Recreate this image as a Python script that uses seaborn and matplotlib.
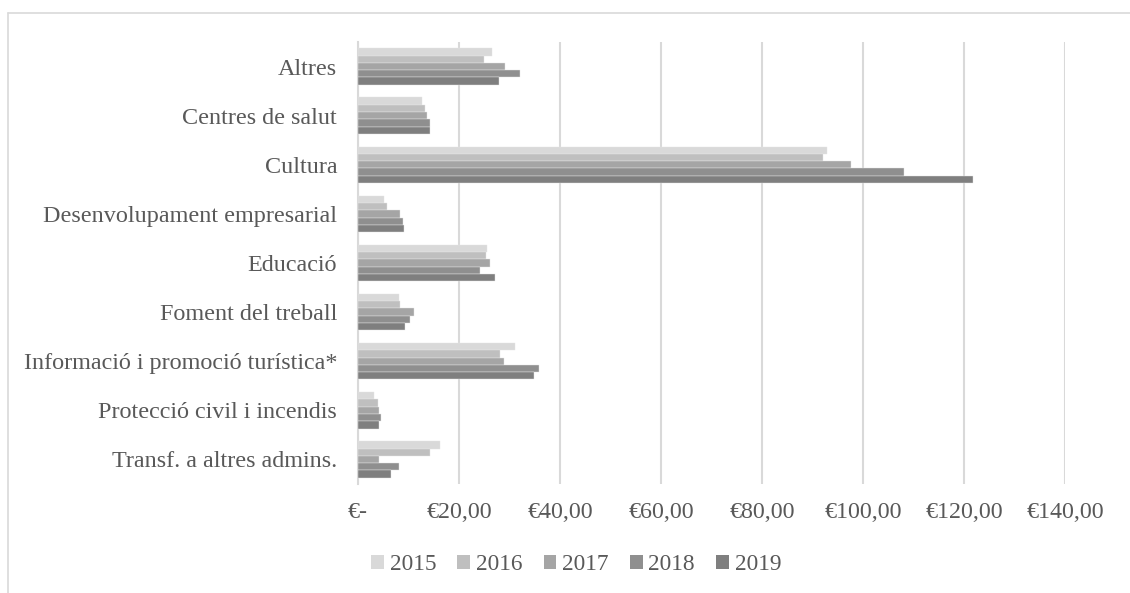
import pandas as pd
import seaborn as sns
import matplotlib.pyplot as plt
from matplotlib.lines import Line2D
from matplotlib.patches import Patch

# -----------------------------
# Data
# -----------------------------
categories = ['Altres', 'Centres de salut', 'Cultura', 'Desenvolupament empresarial',
              'Educació', 'Foment del treball', 'Informació i promoció turística*',
              'Protecció civil i incendis', 'Transf. a altres admins.']
years = ['2015', '2016', '2017', '2018', '2019']

v2015 = [26.5, 12.7, 92.9, 5.1, 25.5, 8.1, 31.0, 3.2, 16.2]
v2016 = [25.0, 13.2, 92.0, 5.7, 25.3, 8.3, 28.2, 4.0, 14.3]
v2017 = [29.2, 13.7, 97.6, 8.4, 26.1, 11.0, 29.0, 4.1, 4.1]
v2018 = [32.0, 14.3, 108.2, 9.0, 24.2, 10.2, 35.9, 4.5, 8.2]
v2019 = [28.0, 14.3, 121.8, 9.2, 27.1, 9.3, 34.8, 4.2, 6.5]

colors = ['#d9d9d9', '#bfbfbf', '#a5a5a5', '#8f8f8f', '#7f7f7f']
text_color = '#595959'

rows = []
for year, vals in zip(years, [v2015, v2016, v2017, v2018, v2019]):
    for cat, v in zip(categories, vals):
        rows.append({'Categoria': cat, 'Any': year, 'Valor': v})
df = pd.DataFrame(rows)

# -----------------------------
# Plot
# -----------------------------
sns.set_style('white')
plt.rcParams['font.family'] = ['Liberation Serif', 'DejaVu Serif']

fig = plt.figure(figsize=(11.3, 5.93), dpi=100)
ax = fig.add_axes([358 / 1130, 1 - 484 / 593, (1065 - 358) / 1130, (484 - 42) / 593])

sns.barplot(data=df, y='Categoria', x='Valor', hue='Any', hue_order=years,
            order=categories, palette=colors, orient='h', width=0.74,
            edgecolor='#e6e6e6', linewidth=0.3, ax=ax, legend=False, zorder=3)

ax.set_xlim(0, 140)
ax.set_ylim(len(categories) - 0.5, -0.5)
ax.set_xticks(range(0, 141, 20))
ax.set_xticklabels(['€-'] + ['€{},00'.format(t) for t in range(20, 141, 20)])
ax.set_xlabel('')
ax.set_ylabel('')

ax.grid(axis='x', color='#d9d9d9', linewidth=1.5, zorder=0)
ax.grid(axis='y', visible=False)
for side in ['top', 'right', 'bottom']:
    ax.spines[side].set_visible(False)
ax.spines['left'].set_color('#d9d9d9')
ax.spines['left'].set_linewidth(1.5)

ax.tick_params(axis='x', length=0, pad=13, labelsize=17.3, labelcolor=text_color)
ax.tick_params(axis='y', length=0, pad=15, labelsize=17.4, labelcolor=text_color)

# legend at the bottom
handles = [Patch(facecolor=c, edgecolor='none') for c in colors]
fig.legend(handles, years, loc='center', bbox_to_anchor=(0.51, 1 - 565 / 593),
           ncol=5, frameon=False, fontsize=16.8, labelcolor=text_color,
           handlelength=0.55, handleheight=0.55, handletextpad=0.25, columnspacing=0.9)

# chart frame (top and left edges visible)
fig.add_artist(Line2D([8 / 1130, 8 / 1130], [0, 1 - 13 / 593], transform=fig.transFigure,
                      color='#d9d9d9', linewidth=1.2))
fig.add_artist(Line2D([8 / 1130, 1], [1 - 13 / 593, 1 - 13 / 593], transform=fig.transFigure,
                      color='#d9d9d9', linewidth=1.2))

plt.savefig('out.png', dpi=100)
